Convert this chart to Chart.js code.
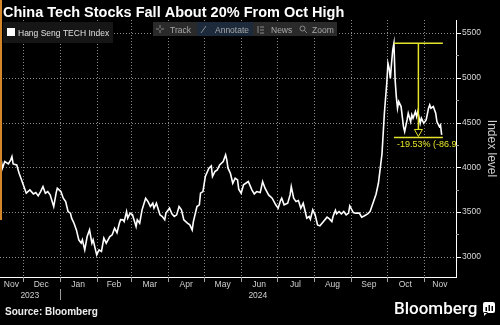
<!DOCTYPE html>
<html>
<head>
<meta charset="utf-8">
<script src="https://cdn.jsdelivr.net/npm/chart.js@4.4.1/dist/chart.umd.min.js"></script>
<style>
  html, body { margin: 0; padding: 0; background: #000; }
  canvas { display: block; }
</style>
</head>
<body>
<canvas id="chart" width="500" height="325"></canvas>
<script>
// Hang Seng TECH Index
const dates = [
  "2023-11-13","2023-11-14","2023-11-16","2023-11-19","2023-11-21","2023-11-22","2023-11-23","2023-11-26","2023-11-28","2023-11-30",
  "2023-12-04","2023-12-07","2023-12-10","2023-12-12","2023-12-14","2023-12-16","2023-12-18","2023-12-20","2023-12-22","2023-12-24",
  "2023-12-27","2023-12-29","2023-12-30","2024-01-02","2024-01-04","2024-01-06","2024-01-08","2024-01-10","2024-01-11","2024-01-13",
  "2024-01-15","2024-01-17","2024-01-19","2024-01-20","2024-01-22","2024-01-24","2024-01-26","2024-01-28","2024-01-29","2024-01-31",
  "2024-02-01","2024-02-03","2024-02-05","2024-02-07","2024-02-09","2024-02-12","2024-02-14","2024-02-16","2024-02-18","2024-02-20",
  "2024-02-21","2024-02-23","2024-02-24","2024-02-26","2024-02-27","2024-02-29","2024-03-02","2024-03-05","2024-03-06","2024-03-08",
  "2024-03-10","2024-03-13","2024-03-15","2024-03-17","2024-03-19","2024-03-20","2024-03-22","2024-03-25","2024-03-27","2024-03-29",
  "2024-03-30","2024-04-02","2024-04-04","2024-04-06","2024-04-08","2024-04-10","2024-04-12","2024-04-14","2024-04-17","2024-04-19",
  "2024-04-21","2024-04-22","2024-04-25","2024-04-27","2024-04-28","2024-04-30","2024-05-02","2024-05-05","2024-05-07","2024-05-08",
  "2024-05-10","2024-05-12","2024-05-14","2024-05-17","2024-05-19","2024-05-20","2024-05-21","2024-05-23","2024-05-25","2024-05-27",
  "2024-05-29","2024-05-30","2024-06-01","2024-06-03","2024-06-07","2024-06-10","2024-06-12","2024-06-14","2024-06-17","2024-06-19",
  "2024-06-21","2024-06-24","2024-06-27","2024-06-30","2024-07-02","2024-07-04","2024-07-05","2024-07-07","2024-07-10","2024-07-12",
  "2024-07-13","2024-07-15","2024-07-17","2024-07-19","2024-07-21","2024-07-23","2024-07-26","2024-07-28","2024-07-29","2024-07-31",
  "2024-08-02","2024-08-04","2024-08-06","2024-08-09","2024-08-12","2024-08-14","2024-08-16","2024-08-17","2024-08-19","2024-08-20",
  "2024-08-22","2024-08-24","2024-08-26","2024-08-28","2024-08-30","2024-08-31","2024-09-03","2024-09-05","2024-09-08","2024-09-10",
  "2024-09-12","2024-09-15","2024-09-17","2024-09-20","2024-09-22","2024-09-24","2024-09-25","2024-09-27","2024-09-29","2024-10-01",
  "2024-10-02","2024-10-03","2024-10-04","2024-10-05","2024-10-06","2024-10-07","2024-10-08","2024-10-09","2024-10-10","2024-10-11",
  "2024-10-13","2024-10-14","2024-10-15","2024-10-16","2024-10-18","2024-10-19","2024-10-21","2024-10-22","2024-10-23","2024-10-25",
  "2024-10-26","2024-10-27","2024-10-29","2024-10-30","2024-11-01","2024-11-03","2024-11-05","2024-11-06","2024-11-07","2024-11-09",
  "2024-11-11","2024-11-12","2024-11-14","2024-11-15","2024-11-16"
];
const values = [
  4083,3990,4064,4038,4083,4120,4038,4027,3934,3860,
  3711,3748,3703,3718,3681,3729,3785,3711,3729,3692,
  3562,3711,3767,3729,3655,3617,3506,3488,3432,3376,
  3301,3190,3153,3190,3078,3227,3301,3153,3190,3078,
  3022,3078,3060,3209,3153,3227,3246,3320,3270,3376,
  3415,3413,3394,3506,3432,3488,3469,3339,3413,3376,
  3525,3655,3617,3562,3599,3543,3599,3469,3450,3413,
  3488,3543,3480,3450,3469,3562,3525,3413,3376,3357,
  3301,3394,3562,3581,3711,3729,3897,3990,4016,3897,
  3952,3971,4027,4064,4139,4083,3990,3934,3822,3878,
  3860,3755,3711,3804,3841,3748,3703,3729,3718,3841,
  3767,3692,3655,3581,3543,3629,3655,3581,3599,3692,
  3785,3655,3617,3629,3543,3599,3432,3450,3420,3525,
  3469,3357,3346,3394,3443,3424,3394,3450,3520,3480,
  3506,3480,3506,3469,3488,3569,3495,3488,3488,3443,
  3457,3480,3506,3620,3700,3822,3930,4150,4604,4939,
  5162,5106,4994,5162,5310,5385,4976,4789,4660,4734,
  4678,4566,4455,4399,4529,4604,4510,4585,4548,4622,
  4566,4622,4492,4548,4492,4529,4660,4697,4660,4678,
  4604,4510,4455,4473,4362
];

const axisStart = "2023-11-12";
const axisEnd = "2024-11-28";
const monthNames = ["Jan","Feb","Mar","Apr","May","Jun","Jul","Aug","Sep","Oct","Nov","Dec"];
const yLabels = [3000, 3500, 4000, 4500, 5000, 5500];
const yMinor = [3250, 3750, 4250, 4750, 5250];

// drawdown annotation
const annoStart = "2024-10-07";
const annoEnd = "2024-11-17";
const annoHigh = 5385;
const annoPct = -19.53;
const annoText = "-19.53% (-86.9";

const DAY = 86400000;
const toDay = s => Date.parse(s) / DAY;
const xMin = toDay(axisStart), xMax = toDay(axisEnd);

// month boundaries, and the centre of each visible month for its label
const monthStarts = [];
const xLabelMap = new Map();
for (let m = 0; m < 16; m++) {
  const s = Date.UTC(2023, 10 + m, 1) / DAY;
  const e = Date.UTC(2023, 11 + m, 1) / DAY;
  if (s > xMax) break;
  if (s > xMin) monthStarts.push(s);
  const a = Math.max(s, xMin), b = Math.min(e, xMax);
  if (b > a) xLabelMap.set((a + b) / 2, monthNames[(10 + m) % 12]);
}

const grey = "#8a8a8a";
const yellow = "#e4e42c";
const clear = "rgba(0,0,0,0)";
const fam = '"Liberation Sans", Arial, sans-serif';

const overlay = {
  id: "overlay",
  beforeDatasetsDraw(chart) {
    // dotted grid and axis tick marks, placed by the scales
    const { ctx, chartArea: a, scales: { x, y } } = chart;
    ctx.save();
    ctx.lineWidth = 1;
    ctx.strokeStyle = grey;
    ctx.setLineDash([1, 2]);
    ctx.beginPath();
    monthStarts.forEach(v => {
      const px = Math.round(x.getPixelForValue(v)) + 0.5;
      ctx.moveTo(px, a.top); ctx.lineTo(px, a.bottom);
    });
    yLabels.forEach(v => {
      const py = Math.round(y.getPixelForValue(v)) + 0.5;
      ctx.moveTo(a.left, py); ctx.lineTo(a.right, py);
    });
    ctx.stroke();
    ctx.setLineDash([]);
    ctx.strokeStyle = "#a0a0a0";
    ctx.beginPath();
    monthStarts.forEach(v => {
      const px = Math.round(x.getPixelForValue(v)) + 0.5;
      ctx.moveTo(px, a.bottom); ctx.lineTo(px, a.bottom + 5);
    });
    yMinor.forEach(v => {
      const py = Math.round(y.getPixelForValue(v)) + 0.5;
      ctx.moveTo(a.right, py); ctx.lineTo(a.right + 3, py);
    });
    ctx.stroke();
    ctx.strokeStyle = "#ffffff";
    ctx.beginPath();
    yLabels.forEach(v => {
      const py = Math.round(y.getPixelForValue(v)) + 0.5;
      ctx.moveTo(a.right, py); ctx.lineTo(a.right + 5, py);
    });
    ctx.stroke();
    ctx.restore();
  },
  afterDatasetsDraw(chart) {
    const { ctx, chartArea: a, scales: { x, y } } = chart;
    const x0 = x.getPixelForValue(toDay(annoStart));
    const x1 = x.getPixelForValue(toDay(annoEnd));
    const xm = (x0 + x1) / 2;
    const yTop = y.getPixelForValue(annoHigh);
    const yLow = y.getPixelForValue(annoHigh * (1 + annoPct / 100));
    ctx.save();
    ctx.beginPath();
    ctx.rect(a.left, a.top, a.right - a.left, a.bottom - a.top);
    ctx.clip();
    ctx.strokeStyle = yellow;
    ctx.lineWidth = 1.5;
    ctx.beginPath();
    ctx.moveTo(x0, yTop); ctx.lineTo(x1, yTop);
    ctx.moveTo(x0, yLow); ctx.lineTo(x1, yLow);
    ctx.moveTo(xm, yTop); ctx.lineTo(xm, yLow - 8);
    ctx.stroke();
    ctx.lineWidth = 1;
    ctx.beginPath();
    ctx.moveTo(xm - 4, yLow - 8); ctx.lineTo(xm + 4, yLow - 8); ctx.lineTo(xm, yLow - 1);
    ctx.closePath();
    ctx.stroke();
    ctx.fillStyle = yellow;
    ctx.font = "9px " + fam;
    ctx.textBaseline = "middle";
    ctx.fillText(annoText, x0 + 3, yLow + 7);
    ctx.restore();
  },
  afterDraw(chart) {
    const { ctx, scales: { x } } = chart;
    ctx.save();
    // orange edge
    ctx.fillStyle = "#d4862a";
    ctx.fillRect(0, 0, 2, 220);

    // title
    ctx.fillStyle = "#fff";
    ctx.font = "bold 14.5px " + fam;
    ctx.textBaseline = "alphabetic";
    ctx.fillText("China Tech Stocks Fall About 20% From Oct High", 3, 16.5);

    // legend
    ctx.fillStyle = "#161616";
    ctx.fillRect(3, 22, 110, 21);
    ctx.fillStyle = "#fff";
    ctx.fillRect(7, 28, 8, 8);
    ctx.fillStyle = "#e0e0e0";
    ctx.font = "8.5px " + fam;
    ctx.fillText("Hang Seng TECH Index", 18, 36);

    // toolbar
    ctx.fillStyle = "#2a2a2a";
    ctx.fillRect(153, 22, 184, 14);
    ctx.fillStyle = "#1c2a3b";
    ctx.fillRect(197, 22, 56, 14);
    ctx.fillStyle = "#a8a8a8";
    ctx.fillText("Track", 170, 32.5);
    ctx.fillText("Annotate", 215, 32.5);
    ctx.fillText("News", 271, 32.5);
    ctx.fillText("Zoom", 312, 32.5);
    ctx.strokeStyle = "#8a8a8a";
    ctx.lineWidth = 1;
    ctx.beginPath();
    ctx.moveTo(156, 29); ctx.lineTo(159, 29); ctx.moveTo(161, 29); ctx.lineTo(164, 29);
    ctx.moveTo(160, 25); ctx.lineTo(160, 28); ctx.moveTo(160, 30); ctx.lineTo(160, 33);
    ctx.moveTo(201, 33); ctx.lineTo(206, 26);
    ctx.moveTo(258, 26); ctx.lineTo(258, 33); ctx.moveTo(260, 27); ctx.lineTo(264, 27);
    ctx.moveTo(260, 30); ctx.lineTo(264, 30); ctx.moveTo(260, 33); ctx.lineTo(264, 33);
    ctx.stroke();
    ctx.beginPath();
    ctx.arc(302.5, 28.5, 2.5, 0, Math.PI * 2);
    ctx.moveTo(304.5, 30.5); ctx.lineTo(307, 33);
    ctx.stroke();

    // year labels under the month labels
    const jan = Date.UTC(2024, 0, 1) / DAY;
    const pL = x.getPixelForValue(xMin), pJ = x.getPixelForValue(jan), pR = x.getPixelForValue(xMax);
    ctx.fillStyle = "#d0d0d0";
    ctx.font = "8.5px " + fam;
    ctx.textAlign = "center";
    ctx.fillText("2023", (pL + pJ) / 2, 298);
    ctx.fillText("2024", (pJ + pR) / 2, 298);
    ctx.strokeStyle = "#9a9a9a";
    ctx.beginPath();
    ctx.moveTo(Math.round(pJ) + 0.5, 289); ctx.lineTo(Math.round(pJ) + 0.5, 300);
    ctx.stroke();

    // footer
    ctx.textAlign = "left";
    ctx.fillStyle = "#eeeeee";
    ctx.font = "bold 10px " + fam;
    ctx.fillText("Source: Bloomberg", 5, 314.5);
    ctx.fillStyle = "#fff";
    ctx.font = "500 17px Roboto, " + fam;
    ctx.fillText("Bloomberg", 394, 313.5);
    ctx.beginPath();
    ctx.roundRect(483, 302, 12, 11, 2);
    ctx.moveTo(484, 312); ctx.lineTo(484, 316); ctx.lineTo(488, 312);
    ctx.fill();
    ctx.fillStyle = "#000";
    ctx.fillRect(485.5, 307, 1.5, 4);
    ctx.fillRect(488.5, 305, 1.5, 6);
    ctx.fillRect(491.5, 306, 1.5, 5);
    ctx.restore();
  }
};

Chart.defaults.font.family = fam;

new Chart(document.getElementById("chart").getContext("2d"), {
  type: "line",
  data: {
    datasets: [{
      label: "Hang Seng TECH Index",
      data: dates.map((d, i) => ({ x: toDay(d), y: values[i] })),
      borderColor: "#ffffff",
      borderWidth: 1.6,
      pointRadius: 0,
      tension: 0,
      fill: false
    }]
  },
  options: {
    responsive: false,
    animation: false,
    devicePixelRatio: 1,
    layout: { padding: { top: 20, left: 0, right: 0, bottom: 0 } },
    plugins: { legend: { display: false }, tooltip: { enabled: false }, title: { display: false } },
    scales: {
      x: {
        type: "linear",
        position: "bottom",
        min: xMin,
        max: xMax,
        afterBuildTicks: s => { s.ticks = [...xLabelMap.keys()].map(v => ({ value: v })); },
        afterFit: s => { s.height = 48; },
        ticks: {
          autoSkip: false,
          maxRotation: 0,
          padding: 3,
          color: "#d0d0d0",
          font: { size: 8.5 },
          callback: v => xLabelMap.get(v) || ""
        },
        grid: { color: clear, drawTicks: false },
        border: { display: true, color: "#ffffff", width: 1 }
      },
      y: {
        position: "right",
        min: 2775,
        max: 5645,
        afterBuildTicks: s => { s.ticks = yLabels.map(v => ({ value: v })); },
        afterFit: s => { s.width = 44; },
        ticks: {
          padding: 6,
          color: "#d8d8d8",
          font: { size: 8.5 },
          callback: v => String(v)
        },
        grid: { color: clear, drawTicks: false },
        border: { display: true, color: "#ffffff", width: 1 },
        title: {
          display: true,
          text: "Index level",
          color: "#cfcfcf",
          font: { size: 12 },
          padding: { top: 1, bottom: 0 }
        }
      }
    }
  },
  plugins: [overlay]
});
</script>
</body>
</html>
